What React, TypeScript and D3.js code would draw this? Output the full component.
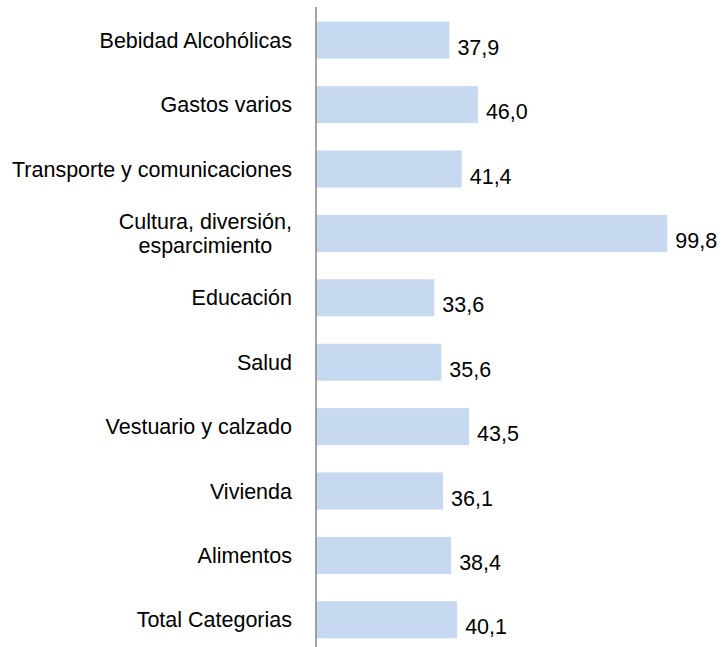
import React, { useEffect, useRef } from 'react';
import * as d3 from 'd3';

// categories top to bottom, label lines split where the original wraps
const categories = [
  ['Bebidad Alcohólicas'],
  ['Gastos varios'],
  ['Transporte y comunicaciones'],
  ['Cultura, diversión,', 'esparcimiento'],
  ['Educación'],
  ['Salud'],
  ['Vestuario y calzado'],
  ['Vivienda'],
  ['Alimentos'],
  ['Total Categorias'],
];
const values = [37.9, 46.0, 41.4, 99.8, 33.6, 35.6, 43.5, 36.1, 38.4, 40.1];

const W = 723;
const H = 647;

const App = () => {
  const svgRef = useRef<SVGSVGElement>(null);

  useEffect(() => {
    if (!svgRef.current) return;
    const svg = d3.select(svgRef.current);
    svg.selectAll('*').remove();

    const axisX = 316;
    const font = 'Liberation Sans, Arial, sans-serif';
    const fs = 21.5;

    const y = d3.scaleBand<number>()
      .domain(d3.range(values.length))
      .range([8, 652])
      .paddingInner(0.425)
      .paddingOuter(0.2125);

    const x = d3.scaleLinear()
      .domain([0, 100])
      .range([axisX, axisX + 352]);

    svg.append('g')
      .selectAll('rect')
      .data(values)
      .enter()
      .append('rect')
      .attr('x', x(0))
      .attr('y', (d, i) => y(i)!)
      .attr('width', d => x(d) - x(0))
      .attr('height', y.bandwidth())
      .attr('fill', '#C6D9F1');

    // axis line
    svg.append('line')
      .attr('x1', axisX).attr('x2', axisX)
      .attr('y1', 7).attr('y2', H)
      .attr('stroke', '#868686')
      .attr('stroke-width', 1.5);

    // value labels
    svg.append('g')
      .selectAll('text')
      .data(values)
      .enter()
      .append('text')
      .attr('x', d => x(d) + 8)
      .attr('y', (d, i) => y(i)! + y.bandwidth() / 2 + 7)
      .attr('dy', '0.35em')
      .attr('font-family', font)
      .attr('font-size', fs)
      .attr('fill', '#000')
      .text(d => d3.format('.1f')(d).replace('.', ','));

    // category labels
    const labelRight = 292;
    const lineH = 23.5;
    categories.forEach((lines, i) => {
      const cy = y(i)! + y.bandwidth() / 2;
      const t = svg.append('text')
        .attr('font-family', font)
        .attr('font-size', fs)
        .attr('fill', '#000');
      const spans = lines.map((ln, j) =>
        t.append('tspan')
          .attr('y', cy + (j - (lines.length - 1) / 2) * lineH)
          .attr('dy', '0.35em')
          .text(ln)
      );
      if (lines.length === 1) {
        t.attr('text-anchor', 'end');
        spans[0].attr('x', labelRight);
      } else {
        const widths = spans.map(s => (s.node() as SVGTSpanElement).getComputedTextLength());
        const mid = labelRight - d3.max(widths)! / 2;
        t.attr('text-anchor', 'middle');
        spans.forEach(s => s.attr('x', mid));
      }
    });
  }, []);

  return (
    <div style={{ position: 'fixed', left: 0, top: 0, width: W, height: H, background: '#fff' }}>
      <svg ref={svgRef} width={W} height={H} style={{ display: 'block' }}></svg>
    </div>
  );
};

export default App;
